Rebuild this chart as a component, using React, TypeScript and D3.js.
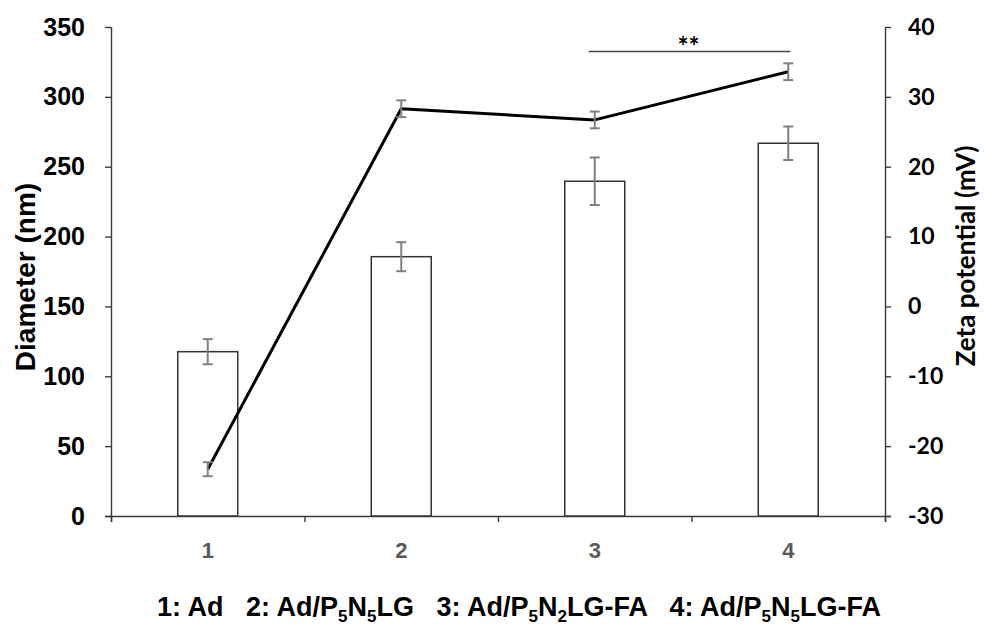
import React, { useRef, useEffect } from 'react';
import * as d3 from 'd3';

// values
const categories = ['1', '2', '3', '4'];
const diameter = [117.6, 185.6, 239.6, 266.8];
const diameterErr = [9, 10.4, 17, 12];
const zeta = [-23.3, 28.3, 26.7, 33.6];
const zetaErr = [1.0, 1.2, 1.2, 1.2];
const leftTicks = [0, 50, 100, 150, 200, 250, 300, 350];
const rightTicks = [-30, -20, -10, 0, 10, 20, 30, 40];

const App = () => {
  const svgRef = useRef(null);

  useEffect(() => {
    const svg = d3.select(svgRef.current);
    svg.selectAll('*').remove();

    const left = 111;
    const right = 885;
    const top = 27;
    const bottom = 516;
    const axisColor = '#3a3a3a';
    const armFont = '"Liberation Sans", Arial, sans-serif';
    const calFont = 'Lato, "Open Sans", sans-serif';

    const x = d3.scaleBand().domain(categories).range([left, right]).padding(0);
    const xEdges = d3.scaleLinear().domain([0, categories.length]).range([left, right]);
    const yL = d3.scaleLinear().domain([0, 350]).range([bottom, top]);
    const yR = d3.scaleLinear().domain([-30, 40]).range([bottom, top]);

    const barW = x.bandwidth() * 0.31;
    const cx = (d) => x(d) + x.bandwidth() / 2;

    // bars
    svg.append('g')
      .selectAll('rect')
      .data(categories)
      .join('rect')
      .attr('x', (d) => cx(d) - barW / 2)
      .attr('y', (d, i) => yL(diameter[i]))
      .attr('width', barW)
      .attr('height', (d, i) => yL(0) - yL(diameter[i]))
      .attr('fill', '#fff')
      .attr('stroke', '#333')
      .attr('stroke-width', 1.5);

    // error bars helper
    const errBars = (vals, errs, scale) => {
      const g = svg.append('g').attr('stroke', '#808080').attr('stroke-width', 2).attr('fill', 'none');
      categories.forEach((c, i) => {
        const xc = cx(c);
        const y1 = scale(vals[i] + errs[i]);
        const y2 = scale(vals[i] - errs[i]);
        g.append('line').attr('x1', xc).attr('x2', xc).attr('y1', y1).attr('y2', y2);
        g.append('line').attr('x1', xc - 5).attr('x2', xc + 5).attr('y1', y1).attr('y2', y1);
        g.append('line').attr('x1', xc - 5).attr('x2', xc + 5).attr('y1', y2).attr('y2', y2);
      });
    };
    errBars(diameter, diameterErr, yL);

    // zeta line
    const line = d3.line()
      .x((d, i) => cx(categories[i]))
      .y((d) => yR(d));
    svg.append('path')
      .datum(zeta)
      .attr('d', line)
      .attr('fill', 'none')
      .attr('stroke', '#000')
      .attr('stroke-width', 3)
      .attr('stroke-linejoin', 'round');
    errBars(zeta, zetaErr, yR);

    // x axis
    const xAxis = svg.append('g')
      .attr('transform', `translate(0,${bottom})`)
      .call(d3.axisBottom(xEdges).tickValues(d3.range(0, categories.length + 1)).tickFormat(() => '').tickSize(6).tickSizeOuter(0));
    xAxis.select('.domain').attr('d', `M${left - 6},0.5H${right + 6}`);
    xAxis.selectAll('line, path').attr('stroke', axisColor).attr('stroke-width', 1.4);

    svg.append('g')
      .selectAll('text')
      .data(categories)
      .join('text')
      .attr('x', (d) => cx(d))
      .attr('y', 558)
      .attr('text-anchor', 'middle')
      .attr('font-family', armFont)
      .attr('font-weight', 'bold')
      .attr('font-size', 22)
      .attr('fill', '#595959')
      .text((d) => d);

    // left axis
    const lAxis = svg.append('g')
      .attr('transform', `translate(${left},0)`)
      .call(d3.axisLeft(yL).tickValues(leftTicks).tickFormat((d) => String(d)).tickSize(6).tickSizeOuter(0).tickPadding(20));
    lAxis.select('.domain').attr('d', `M0.5,${top}V${bottom + 6}`);
    lAxis.selectAll('line, path').attr('stroke', axisColor).attr('stroke-width', 1.4);
    lAxis.selectAll('text')
      .attr('font-family', armFont)
      .attr('font-weight', 'bold')
      .attr('font-size', 25)
      .attr('fill', '#000');

    // right axis
    const rAxis = svg.append('g')
      .attr('transform', `translate(${right},0)`)
      .call(d3.axisRight(yR).tickValues(rightTicks).tickFormat((d) => String(d)).tickSize(6).tickSizeOuter(0).tickPadding(17));
    rAxis.select('.domain').attr('d', `M0.5,${top}V${bottom + 6}`);
    rAxis.selectAll('line, path').attr('stroke', axisColor).attr('stroke-width', 1.4);
    rAxis.selectAll('text')
      .attr('font-family', calFont)
      .attr('font-weight', 'bold')
      .attr('font-size', 23)
      .attr('fill', '#000');

    // axis titles
    svg.append('text')
      .attr('transform', `translate(35,277) rotate(-90)`)
      .attr('text-anchor', 'middle')
      .attr('font-family', armFont)
      .attr('font-weight', 'bold')
      .attr('font-size', 28)
      .text('Diameter (nm)');

    svg.append('text')
      .attr('transform', `translate(975,256) rotate(-90)`)
      .attr('text-anchor', 'middle')
      .attr('font-family', calFont)
      .attr('font-weight', 'bold')
      .attr('font-size', 26)
      .text('Zeta potential (mV)');

    // significance marker between 3 and 4
    svg.append('line')
      .attr('x1', cx('3') - 6)
      .attr('x2', cx('4') + 2)
      .attr('y1', 51.5)
      .attr('y2', 51.5)
      .attr('stroke', '#444')
      .attr('stroke-width', 1.3);
    svg.append('text')
      .attr('x', (cx('3') + cx('4')) / 2 - 3)
      .attr('y', 56)
      .attr('text-anchor', 'middle')
      .attr('font-family', calFont)
      .attr('font-weight', 'bold')
      .attr('font-size', 26)
      .text('**');

    // legend line with subscripts
    const leg = svg.append('text')
      .attr('x', 519)
      .attr('y', 616)
      .attr('text-anchor', 'middle')
      .attr('font-family', armFont)
      .attr('font-weight', 'bold')
      .attr('font-size', 27)
      .attr('xml:space', 'preserve');
    const parts = [
      ['1: Ad   2: Ad/P', false], ['5', true], ['N', false], ['5', true], ['LG   3: Ad/P', false],
      ['5', true], ['N', false], ['2', true], ['LG-FA   4: Ad/P', false], ['5', true], ['N', false],
      ['5', true], ['LG-FA', false],
    ];
    parts.forEach(([t, sub], i) => {
      const prevSub = i > 0 && parts[i - 1][1];
      let dy = 0;
      if (sub && !prevSub) dy = 6;
      if (!sub && prevSub) dy = -6;
      const ts = leg.append('tspan').attr('dy', dy).text(t);
      if (sub) ts.attr('font-size', 17);
    });
  }, []);

  return (
    <svg
      ref={svgRef}
      width={984}
      height={625}
      style={{ position: 'absolute', left: 0, top: 0, background: '#fff' }}
    />
  );
};

export default App;
